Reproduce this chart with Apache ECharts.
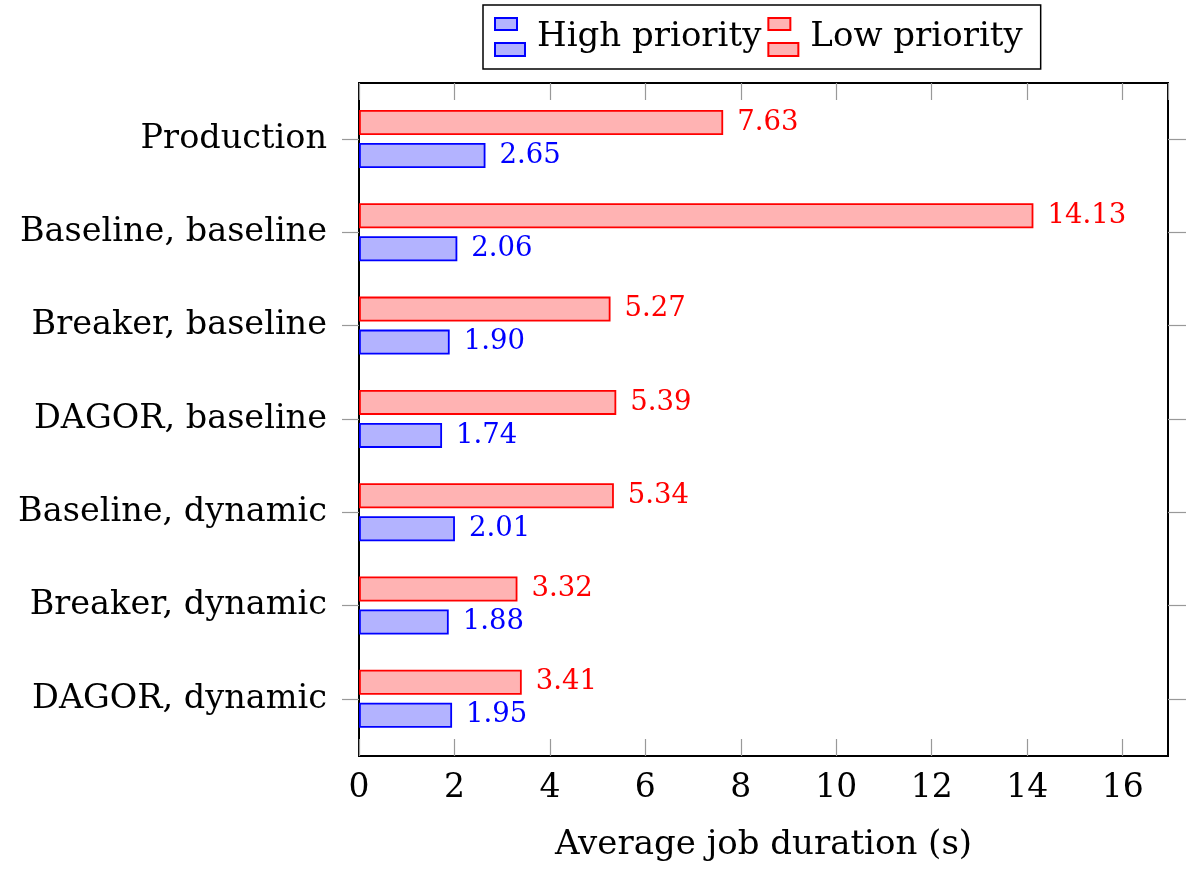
<!DOCTYPE html>
<html>
<head>
<meta charset="utf-8">
<script src="https://cdn.jsdelivr.net/npm/echarts@6/dist/echarts.min.js"></script>
<style>html,body{margin:0;padding:0;background:#fff;}#c{width:1187px;height:877px;}</style>
</head>
<body>
<div id="c"></div>
<script>
const categories = ['Production', 'Baseline, baseline', 'Breaker, baseline', 'DAGOR, baseline', 'Baseline, dynamic', 'Breaker, dynamic', 'DAGOR, dynamic'];
const highPriority = [2.65, 2.06, 1.90, 1.74, 2.01, 1.88, 1.95];
const lowPriority = [7.63, 14.13, 5.27, 5.39, 5.34, 3.32, 3.41];
const xTicks = [0, 2, 4, 6, 8, 10, 12, 14, 16];
const xMin = 0, xMax = 16.95;

const FONT = 'DejaVu Serif';
const icon = 'path://M0 0H22V12H0Z M0 25H30V38H0Z';
const chart = echarts.init(document.getElementById('c'), null, {renderer: 'canvas'});
const L = 359, R = 1187 - 1168, T = 83, B = 877 - 756;
const bandH = 93.3;
const c0 = 139;
const topB = c0 - bandH / 2, botB = 877 - (c0 + 6 * bandH + bandH / 2);
const tickStyle = {color: '#999', width: 1.2};
const labelFmt = v => (xTicks.indexOf(Math.round(v * 100) / 100) >= 0 ? String(v) : '');

chart.setOption({
  animation: false,
  textStyle: {fontFamily: FONT},
  legend: {
    data: [{name: 'High priority', icon: icon}, {name: 'Low priority', icon: icon}],
    left: 483, top: 5,
    orient: 'horizontal',
    borderColor: '#000', borderWidth: 1.5,
    padding: [12, 18, 12, 11],
    itemGap: 6, itemWidth: 30, itemHeight: 38,
    textStyle: {fontFamily: FONT, fontSize: 34, color: '#000', padding: [0, 0, 0, 7]}
  },
  grid: [
    {left: L, right: R, top: T, bottom: B, show: true, borderColor: '#000', borderWidth: 2, backgroundColor: 'transparent', containLabel: false},
    {left: L, right: R, top: topB, bottom: botB, containLabel: false}
  ],
  xAxis: [
    {gridIndex: 0, type: 'value', min: xMin, max: xMax, interval: 2, position: 'bottom',
     axisLine: {show: false}, splitLine: {show: false},
     axisTick: {inside: true, length: 17, lineStyle: tickStyle},
     axisLabel: {fontFamily: FONT, fontSize: 33, color: '#000', margin: 16, formatter: labelFmt, showMaxLabel: false},
     name: 'Average job duration (s)', nameLocation: 'middle', nameGap: 72,
     nameTextStyle: {fontFamily: FONT, fontSize: 34, color: '#000'}},
    {gridIndex: 0, type: 'value', min: xMin, max: xMax, interval: 2, position: 'top',
     axisLine: {show: false}, splitLine: {show: false},
     axisTick: {inside: true, length: 17, lineStyle: tickStyle},
     axisLabel: {show: false}},
    {gridIndex: 1, type: 'value', min: xMin, max: xMax, show: false}
  ],
  yAxis: [
    {gridIndex: 0, type: 'value', min: 0, max: 1, show: false},
    {gridIndex: 1, type: 'category', data: categories, inverse: true, position: 'left',
     axisLine: {show: false},
     axisTick: {show: true, inside: false, length: 17, alignWithLabel: true, lineStyle: tickStyle},
     axisLabel: {fontFamily: FONT, fontSize: 33.5, color: '#000', margin: 32}},
    {gridIndex: 1, type: 'category', data: categories, inverse: true, position: 'right',
     axisLine: {show: false},
     axisTick: {show: true, inside: false, length: 18, alignWithLabel: true, lineStyle: tickStyle},
     axisLabel: {show: false}}
  ],
  series: [
    {name: 'Low priority', type: 'bar', xAxisIndex: 2, yAxisIndex: 1, data: lowPriority,
     barWidth: 25, barGap: '32%',
     itemStyle: {color: 'rgb(255,179,179)', borderColor: '#ff0000', borderWidth: 1.8},
     label: {show: true, position: 'right', distance: 14, color: '#ff0000', fontFamily: FONT, fontSize: 27.5,
             formatter: p => p.value.toFixed(2)}},
    {name: 'High priority', type: 'bar', xAxisIndex: 2, yAxisIndex: 1, data: highPriority,
     barWidth: 25, barGap: '32%',
     itemStyle: {color: 'rgb(179,179,255)', borderColor: '#0000ff', borderWidth: 1.8},
     label: {show: true, position: 'right', distance: 14, color: '#0000ff', fontFamily: FONT, fontSize: 27.5,
             formatter: p => p.value.toFixed(2)}}
  ]
});
</script>
</body>
</html>
